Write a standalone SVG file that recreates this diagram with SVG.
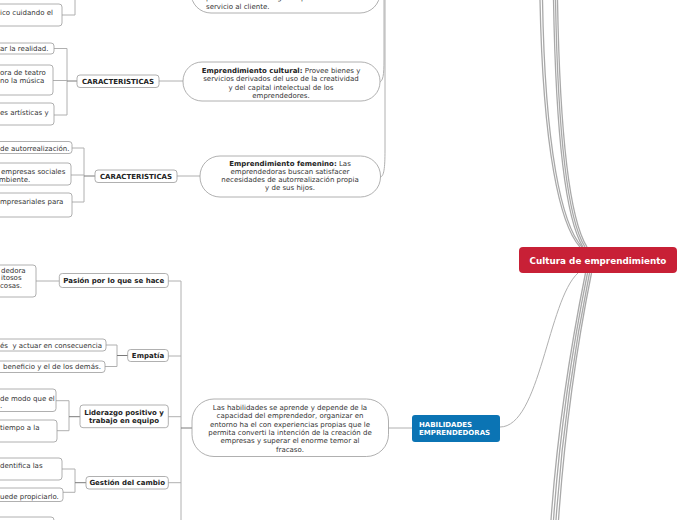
<svg xmlns="http://www.w3.org/2000/svg" width="697" height="520" viewBox="0 0 697 520">
<style>
.box{fill:#fff;stroke:#9c9c9c;stroke-width:0.8}
.t{font-family:"DejaVu Sans",Verdana,sans-serif;font-size:7px;fill:#333}
.b{font-weight:bold;fill:#222}
.m{text-anchor:middle}
.w{fill:#fff;font-weight:bold}
.c{fill:none;stroke:#b0b0b0;stroke-width:1}
.cd{fill:none;stroke:#7a7a7a;stroke-width:1}
.tr{fill:none;stroke:#a9a9a9;stroke-width:1.3}
</style>
<rect width="697" height="520" fill="#fff"/>
<g id="connectors">
  <path class="tr" d="M540,0 C543,150 560,225 580,247"/>
  <path class="tr" d="M542.5,0 C545,150 562,225 582,247"/>
  <path class="tr" d="M553.5,0 C556,140 566,220 583,247"/>
  <path class="tr" d="M555.5,0 C558,140 568,220 585,247"/>
  <path class="tr" d="M557.5,0 C560,140 570,220 587,247"/>
  <path class="tr" d="M585.5,273 C574,330 558,420 551,520"/>
  <path class="tr" d="M587.5,273 C576,330 560.5,420 553.5,520"/>
  <path class="tr" d="M589.5,273 C578,330 563,420 556,520"/>
  <path class="tr" d="M591.5,273 C580,330 565.5,420 558.5,520"/>
  <path class="c" d="M500,427 C540,427 548,300 578,273"/>
  <path class="c" d="M379,82 C383,82 384,75 384,60 L384,0"/>
  <path class="c" d="M380,177 C384,177 385,168 385,150 L385,0"/>
  <path class="c" d="M388,428 H412"/>
  <path class="c" d="M159,81 H183"/>
  <path class="c" d="M177,176 H200"/>
  <path class="c" d="M62,15 H75 V0"/>
  <path class="c" d="M67,48.5 V115 M54,48.5 H67 M53,80.5 H67 M54,115 H67"/>
  <path class="cd" d="M77,81 H67"/>
  <path class="c" d="M84,148 V202 M72,148 H84 M71,175 H84 M72,202 H84"/>
  <path class="cd" d="M95,176 H84"/>
  <path class="c" d="M59,281 H36"/>
  <path class="c" d="M117,345 V366.5 M106,345 H117 M105,366.5 H117"/>
  <path class="cd" d="M128,355.5 H117"/>
  <path class="c" d="M69,400.7 V430.7 M56,400.7 H69 M57,430.7 H69"/>
  <path class="cd" d="M80,416.7 H69"/>
  <path class="c" d="M75,469 V492.3 M62,469 H75 M63,492.3 H75"/>
  <path class="cd" d="M86,482.7 H75"/>
  <path class="c" d="M181,281 V520 M168,281 H181 M168,356 H181 M168,416.7 H181 M168,482.7 H181"/>
  <path class="cd" d="M192,428 H181"/>
</g>
<g id="root">
  <rect x="519" y="247" width="158" height="26" rx="4" fill="#c82036"/>
  <text class="t w m" x="598" y="264.2" style="font-size:8.8px">Cultura de emprendimiento</text>
</g>
<g id="habilidades">
  <rect x="412" y="415" width="88" height="27" rx="3" fill="#0b74b4"/>
  <text class="t w" x="419" y="426.8">HABILIDADES</text>
  <text class="t w" x="419" y="434.8">EMPRENDEDORAS</text>
</g>
<g id="pill-habilidades">
  <rect class="box" x="192" y="399" width="196.5" height="57.5" rx="22"/>
  <text class="t m" x="290" y="409.8">Las habilidades se aprende y depende de la</text>
  <text class="t m" x="290" y="418.2">capacidad del emprendedor, organizar en</text>
  <text class="t m" x="290" y="426.6">entorno ha el con experiencias propias que le</text>
  <text class="t m" x="290" y="435">permita converti la intención de la creación de</text>
  <text class="t m" x="290" y="443.4">empresas y superar el enorme temor al</text>
  <text class="t m" x="290" y="451.8">fracaso.</text>
</g>
<g id="pill-top">
  <rect class="box" x="191" y="-35" width="189" height="48" rx="20"/>
  <text class="t" x="206" y="0.3">prima hasta la entrega del producto o</text>
  <text class="t" x="206" y="8.5">servicio al cliente.</text>
</g>
<g id="pill-cultural">
  <rect class="box" x="183" y="62" width="197" height="39" rx="19"/>
  <text class="t m" x="281" y="73"><tspan class="b">Emprendimiento cultural:</tspan> Provee bienes y</text>
  <text class="t m" x="281" y="81.3">servicios derivados del uso de la creatividad</text>
  <text class="t m" x="281" y="89.6">y del capital intelectual de los</text>
  <text class="t m" x="281" y="97.9">emprendedores.</text>
</g>
<g id="pill-femenino">
  <rect class="box" x="200" y="156" width="180.5" height="41" rx="20"/>
  <text class="t m" x="290" y="165.5"><tspan class="b">Emprendimiento femenino:</tspan> Las</text>
  <text class="t m" x="290" y="173.8">emprendedoras buscan satisfacer</text>
  <text class="t m" x="290" y="182.1">necesidades de autorrealización propia</text>
  <text class="t m" x="290" y="190.4">y de sus hijos.</text>
</g>
<g id="caract1">
  <rect class="box" x="77" y="75" width="82" height="12.5" rx="3"/>
  <text class="t b m" x="118" y="83.6">CARACTERISTICAS</text>
</g>
<g id="caract2">
  <rect class="box" x="95" y="170" width="82" height="12.5" rx="3"/>
  <text class="t b m" x="136" y="178.6">CARACTERISTICAS</text>
</g>
<g id="pasion">
  <rect class="box" x="59.3" y="273.5" width="109" height="14" rx="3"/>
  <text class="t b m" x="113.8" y="283.4">Pasión por lo que se hace</text>
</g>
<g id="empatia">
  <rect class="box" x="127.7" y="349.5" width="40.6" height="12" rx="3"/>
  <text class="t b m" x="148" y="358">Empatía</text>
</g>
<g id="liderazgo">
  <rect class="box" x="80" y="405" width="88.3" height="22.7" rx="3"/>
  <text class="t b m" x="124" y="414.8">Liderazgo positivo y</text>
  <text class="t b m" x="124" y="422.8">trabajo en equipo</text>
</g>
<g id="gestion">
  <rect class="box" x="86" y="476.5" width="82.3" height="12.5" rx="3"/>
  <text class="t b m" x="127.2" y="485.2">Gestión del cambio</text>
</g>
<g id="leaf-a">
  <rect class="box" x="-20" y="4" width="82" height="22" rx="3"/>
  <text class="t" x="0" y="15.2">ico cuidando el</text>
</g>
<g id="leaf-b">
  <rect class="box" x="-20" y="43" width="74" height="11" rx="3"/>
  <text class="t" x="0" y="51">ar la realidad.</text>
</g>
<g id="leaf-c">
  <rect class="box" x="-20" y="65" width="73" height="30" rx="3"/>
  <text class="t" x="0" y="74.5">ora de teatro</text>
  <text class="t" x="0" y="83">no la música</text>
</g>
<g id="leaf-d">
  <rect class="box" x="-20" y="103" width="74" height="22" rx="3"/>
  <text class="t" x="0" y="114.5">es artísticas y</text>
</g>
<g id="leaf-e">
  <rect class="box" x="-20" y="141.5" width="92" height="12" rx="3"/>
  <text class="t" x="0" y="150.8">de autorrealización.</text>
</g>
<g id="leaf-f">
  <rect class="box" x="-20" y="163" width="91" height="22" rx="3"/>
  <text class="t" x="1" y="173.5">empresas sociales</text>
  <text class="t" x="-1" y="181.8">mbiente.</text>
</g>
<g id="leaf-g">
  <rect class="box" x="-20" y="193" width="92" height="24" rx="3"/>
  <text class="t" x="0" y="204.2">mpresariales para</text>
</g>
<g id="leaf-h">
  <rect class="box" x="-20" y="265" width="56" height="32" rx="3"/>
  <text class="t" x="1" y="272.5">dedora</text>
  <text class="t" x="1" y="280">itosos</text>
  <text class="t" x="0" y="287.5">cosas.</text>
</g>
<g id="leaf-i">
  <rect class="box" x="-20" y="339" width="126" height="12" rx="3"/>
  <text class="t" x="0" y="347.5" xml:space="preserve">és  y actuar en consecuencia</text>
</g>
<g id="leaf-j">
  <rect class="box" x="-20" y="361" width="125" height="11.5" rx="3"/>
  <text class="t" x="3" y="369.2">beneficio y el de los demás.</text>
</g>
<g id="leaf-k">
  <rect class="box" x="-20" y="389" width="76" height="22.5" rx="3"/>
  <text class="t" x="0" y="400.8">de modo que el</text>
  <text class="t" x="0" y="407.5">.</text>
</g>
<g id="leaf-l">
  <rect class="box" x="-20" y="420" width="77" height="22" rx="3"/>
  <text class="t" x="0" y="430.2">tiempo a la</text>
</g>
<g id="leaf-m">
  <rect class="box" x="-20" y="458" width="82" height="22" rx="3"/>
  <text class="t" x="0" y="468.2">dentifica las</text>
</g>
<g id="leaf-n">
  <rect class="box" x="-20" y="488" width="83" height="13.5" rx="3"/>
  <text class="t" x="0" y="499.2">uede propiciarlo.</text>
</g>
<g id="leaf-o">
  <rect class="box" x="-20" y="517" width="74" height="14" rx="3"/>
</g>
</svg>
